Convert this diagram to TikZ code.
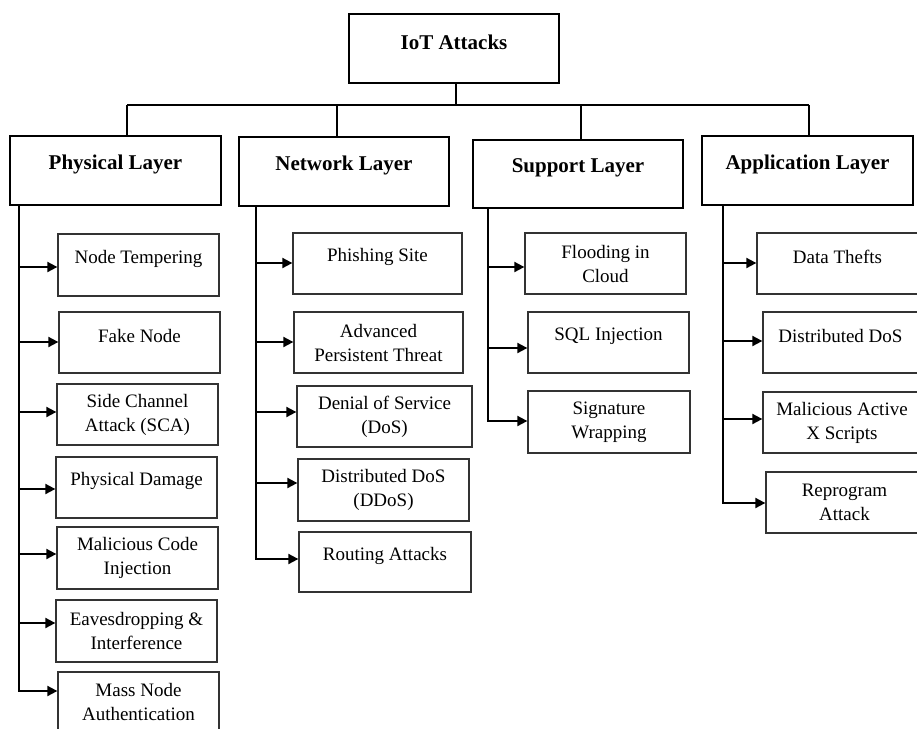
\documentclass[tikz,border=0pt]{standalone}
\usepackage{fontspec}
\setmainfont{Liberation Serif}
\usetikzlibrary{arrows.meta}

% box: style, name, x1, y1, x2, y2, text style, text
\newcommand\mkbox[8]{%
  \node[#1, minimum width={(#5-#3)*1pt}, minimum height={(#6-#4)*1pt}] (#2) at ({(#3+#5)/2},{(#4+#6)/2}) {};
  \node[#7] at (#2.center) {#8};
}

\begin{document}
\begin{tikzpicture}[x=1pt, y=-1pt,
  headbox/.style={draw=black, line width=1.9pt, inner sep=0pt, rectangle},
  leafbox/.style={draw=black!80, line width=1.3pt, inner sep=0pt, rectangle},
  headtxt/.style={font=\fontsize{21}{25}\selectfont\bfseries, inner sep=0pt, yshift=6.5pt},
  onetxt/.style={font=\fontsize{19}{24}\selectfont, inner sep=0pt, yshift=6.5pt},
  twotxt/.style={font=\fontsize{19}{24}\selectfont, inner sep=0pt, align=center},
  conn/.style={draw=black, line width=1.9pt},
  arr/.style={conn, -{Triangle[length=10pt, width=10pt]}, line join=miter}]

\clip (0,0) rectangle (917,728);

% root and the four layers
\mkbox{headbox}{top}{349}{14}{559}{83}{headtxt}{IoT Attacks}
\mkbox{headbox}{L1}{10}{136}{221}{205}{headtxt}{Physical Layer}
\mkbox{headbox}{L2}{239}{137}{449}{206}{headtxt}{Network Layer}
\mkbox{headbox}{L3}{473}{140}{683}{208}{headtxt}{Support Layer}
\mkbox{headbox}{L4}{702}{136}{913}{205}{headtxt}{Application Layer}

% physical layer attacks
\mkbox{leafbox}{p1}{58}{234}{219}{296}{onetxt}{Node Tempering}
\mkbox{leafbox}{p2}{59}{312}{220}{373}{onetxt}{Fake Node}
\mkbox{leafbox}{p3}{57}{384}{218}{445}{twotxt}{Side Channel\\Attack (SCA)}
\mkbox{leafbox}{p4}{56}{457}{217}{518}{onetxt}{Physical Damage}
\mkbox{leafbox}{p5}{57}{527}{218}{589}{twotxt}{Malicious Code\\Injection}
\mkbox{leafbox}{p6}{56}{600}{217}{662}{twotxt}{Eavesdropping \&\\Interference}
\mkbox{leafbox}{p7}{58}{672}{219}{732}{twotxt}{Mass Node\\Authentication}

% network layer attacks
\mkbox{leafbox}{n1}{293}{233}{462}{294}{onetxt}{Phishing Site}
\mkbox{leafbox}{n2}{294}{312}{463}{373}{twotxt}{Advanced\\Persistent Threat}
\mkbox{leafbox}{n3}{297}{386}{472}{447}{twotxt}{Denial of Service\\(DoS)}
\mkbox{leafbox}{n4}{298}{459}{469}{521}{twotxt}{Distributed DoS\\(DDoS)}
\mkbox{leafbox}{n5}{299}{532}{471}{592}{onetxt}{Routing Attacks}

% support layer attacks
\mkbox{leafbox}{s1}{525}{233}{686}{294}{twotxt}{Flooding in\\Cloud}
\mkbox{leafbox}{s2}{528}{312}{689}{373}{onetxt}{SQL Injection}
\mkbox{leafbox}{s3}{528}{391}{690}{453}{twotxt}{Signature\\Wrapping}

% application layer attacks
\mkbox{leafbox}{a1}{757}{233}{918}{294}{onetxt}{Data Thefts}
\mkbox{leafbox}{a2}{763}{312}{918}{373}{onetxt}{Distributed DoS}
\mkbox{leafbox}{a3}{763}{392}{921}{453}{twotxt}{Malicious Active\\X Scripts}
\mkbox{leafbox}{a4}{766}{472}{923}{533}{twotxt}{Reprogram\\Attack}

% bus from the root to the layers
\coordinate (b1) at (127,105);
\coordinate (b2) at (337,105);
\coordinate (b3) at (581,105);
\coordinate (b4) at (809,105);
\draw[conn] (top.south -| 456,0) -- (456,105);
\draw[conn] (b1) -- (b4);
\draw[conn] (b1) -- (b1 |- L1.north);
\draw[conn] (b2) -- (b2 |- L2.north);
\draw[conn] (b3) -- (b3 |- L3.north);
\draw[conn] (b4) -- (b4 |- L4.north);

% spine points for the arrows
\foreach \n/\x/\y in {p1/19/267, p2/19/342, p3/19/412, p4/19/489, p5/19/554, p6/19/623, p7/19/691,
                      n1/256/263, n2/256/342, n3/256/412, n4/256/483, n5/256/559,
                      s1/488/267, s2/488/348, s3/488/421,
                      a1/723/263, a2/723/341, a3/723/419, a4/723/503}
  \coordinate (\n a) at (\x,\y);

% spines ending in the last arrow of each layer
\draw[arr] (L1.south -| p7a) -- (p7a) -- (p7.west |- p7a);
\draw[arr] (L2.south -| n5a) -- (n5a) -- (n5.west |- n5a);
\draw[arr] (L3.south -| s3a) -- (s3a) -- (s3.west |- s3a);
\draw[arr] (L4.south -| a4a) -- (a4a) -- (a4.west |- a4a);

% remaining arrows
\foreach \n in {p1,p2,p3,p4,p5,p6,n1,n2,n3,n4,s1,s2,a1,a2,a3}
  \draw[arr] (\n a) -- (\n.west |- \n a);

\end{tikzpicture}
\end{document}
